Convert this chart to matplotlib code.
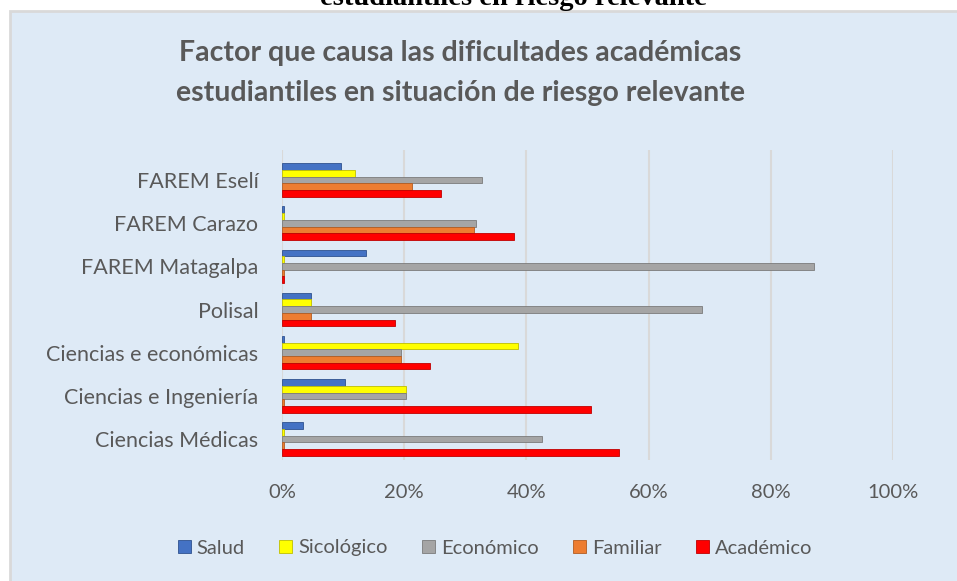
import numpy as np
from matplotlib import pyplot as plt
from matplotlib.patches import Rectangle

categories = ['FAREM Eselí', 'FAREM Carazo', 'FAREM Matagalpa', 'Polisal',
              'Ciencias e económicas', 'Ciencias e Ingeniería', 'Ciencias Médicas']
series = ['Salud', 'Sicológico', 'Económico', 'Familiar', 'Académico']
salud = [9.6, 0.3, 13.7, 4.7, 0.3, 10.3, 3.4]
sicologico = [11.9, 0.3, 0.3, 4.7, 38.6, 20.3, 0.3]
economico = [32.8, 31.7, 87.1, 68.8, 19.4, 20.3, 42.5]
familiar = [21.2, 31.5, 0.3, 4.7, 19.4, 0.3, 0.3]
academico = [26.0, 37.9, 0.3, 18.5, 24.2, 50.5, 55.2]
colors = ['#4472C4', '#FFFF00', '#A5A5A5', '#ED7D31', '#FF0000']
edges = ['#2F528F', '#BFBF00', '#7B7B7B', '#B15C22', '#C00000']
xticks = [0, 20, 40, 60, 80, 100]

W, H = 957, 581
fig = plt.figure(figsize=(W / 100, H / 100), dpi=100)
fig.patch.set_facecolor('white')

# chart area box (light blue with grey border), kept behind the axes
fig.patches.append(Rectangle((10 / W, -0.01), 1.0, 1.01 - 11 / H, transform=fig.transFigure,
                             facecolor='#DEEAF6', edgecolor='#D9D9D9', lw=2, zorder=-10))

# cut-off caption above the chart
fig.text(513 / W, 1 - 5 / H, 'estudiantiles en riesgo relevante', ha='center',
         va='baseline', family='Liberation Serif', fontweight='bold', fontsize=20.5,
         color='black')

fig.text(460 / W, 1 - 53 / H, 'Factor que causa las dificultades académicas',
         ha='center', va='center', family='Lato', fontweight='bold',
         fontsize=20.5, color='#595959')
fig.text(460 / W, 1 - 93 / H, 'estudiantiles en situación de riesgo relevante',
         ha='center', va='center', family='Lato', fontweight='bold',
         fontsize=20.5, color='#595959')

ax = fig.add_axes([282 / W, 1 - 460 / H, (893 - 282) / W, (460 - 150) / H])
ax.set_facecolor('none')

data = [salud, sicologico, economico, familiar, academico]
y = np.arange(len(categories))
bh = 0.155
for k, vals in enumerate(data):
    offs = (k - 2) * bh
    ax.barh(y + offs, vals, height=bh, color=colors[k], edgecolor=edges[k],
            linewidth=0.6, label=series[k], zorder=3)

ax.set_ylim(6.486, -0.695)
ax.set_xlim(0, 100)
ax.set_xticks(xticks)
ax.set_xticklabels(['{}%'.format(t) for t in xticks])
ax.set_yticks(y)
ax.set_yticklabels(categories)
for t in xticks:
    ax.axvline(t, color='#D9D9D9', lw=1.5, zorder=1)
for s in ax.spines.values():
    s.set_visible(False)
ax.tick_params(axis='both', length=0, labelcolor='#595959')
ax.tick_params(axis='x', pad=17, labelsize=14.5)
ax.tick_params(axis='y', pad=17, labelsize=15.5)
for lab in ax.get_xticklabels() + ax.get_yticklabels():
    lab.set_family('Lato')

leg = fig.legend(loc='center', bbox_to_anchor=(495 / W, 1 - 548 / H), ncol=5,
                 frameon=False, prop={'family': 'Lato', 'size': 14.5},
                 handlelength=0.65, handleheight=0.65, handletextpad=0.3,
                 columnspacing=1.7)
for txt in leg.get_texts():
    txt.set_color('#595959')

fig.savefig('out.png', dpi=100)
